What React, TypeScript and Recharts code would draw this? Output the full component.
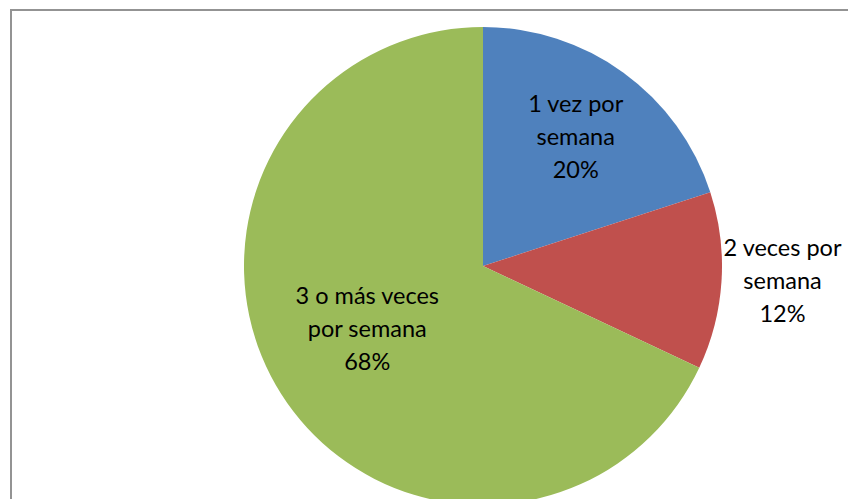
import React from 'react';
import { PieChart, Pie, Cell } from 'recharts';

// Frequency share per category
const categories = ['1 vez por semana', '2 veces por semana', '3 o más veces por semana'];
const percents = [20, 12, 68];
const COLORS = ['#4F81BD', '#C0504D', '#9BBB59'];

const chartData = categories.map((name, i) => ({ name, value: percents[i] }));

// greedy word wrap, Excel-style
const wrap = (text: string, max = 13) => {
  const lines: string[] = [];
  let cur = '';
  text.split(' ').forEach((w) => {
    const next = cur ? cur + ' ' + w : w;
    if (next.length > max && cur) {
      lines.push(cur);
      cur = w;
    } else {
      cur = next;
    }
  });
  if (cur) lines.push(cur);
  return lines;
};

// label distance from centre, as a share of the radius (best-fit look)
const LABEL_R = [0.66, 1.255, 0.553];
const LABEL_SHIFT = [0, 0.6, -3.5];

const renderLabel = (props: any) => {
  const { cx, cy, midAngle, outerRadius, index, name, percent } = props;
  const RAD = Math.PI / 180;
  const r = outerRadius * LABEL_R[index];
  const a = midAngle + LABEL_SHIFT[index];
  const x = cx + r * Math.cos(-a * RAD);
  const y = cy + r * Math.sin(-a * RAD) - 2;
  const lines = [...wrap(name), `${Math.round(percent * 100)}%`];
  const lh = 33;
  const top = y - ((lines.length - 1) * lh) / 2;
  return (
    <text
      key={`lbl-${index}`}
      x={x}
      y={top}
      textAnchor="middle"
      dominantBaseline="central"
      fill="#000"
      style={{ fontFamily: 'Lato, "Open Sans", sans-serif', fontSize: 23.5 }}
    >
      {lines.map((l, i) => (
        <tspan key={i} x={x} y={top + i * lh}>
          {l}
        </tspan>
      ))}
    </text>
  );
};

export default function App() {
  return (
    <div style={{ position: 'fixed', left: 0, top: 0, width: 848, height: 499, overflow: 'hidden', background: '#fff' }}>
      <div
        style={{
          position: 'absolute',
          left: 10,
          top: 9,
          width: 900,
          height: 600,
          borderLeft: '2px solid #939393',
          borderTop: '2px solid #939393',
        }}
      />
      <div style={{ position: 'absolute', left: 0, top: 0 }}>
        <PieChart width={848} height={499} margin={{ top: 0, right: 0, bottom: 0, left: 0 }}>
          <Pie
            data={chartData}
            dataKey="value"
            nameKey="name"
            cx={483}
            cy={266}
            outerRadius={239}
            startAngle={90}
            endAngle={-270}
            stroke="none"
            label={renderLabel}
            labelLine={false}
            isAnimationActive={false}
          >
            {chartData.map((entry, index) => (
              <Cell key={`cell-${index}`} fill={COLORS[index % COLORS.length]} />
            ))}
          </Pie>
        </PieChart>
      </div>
    </div>
  );
}
